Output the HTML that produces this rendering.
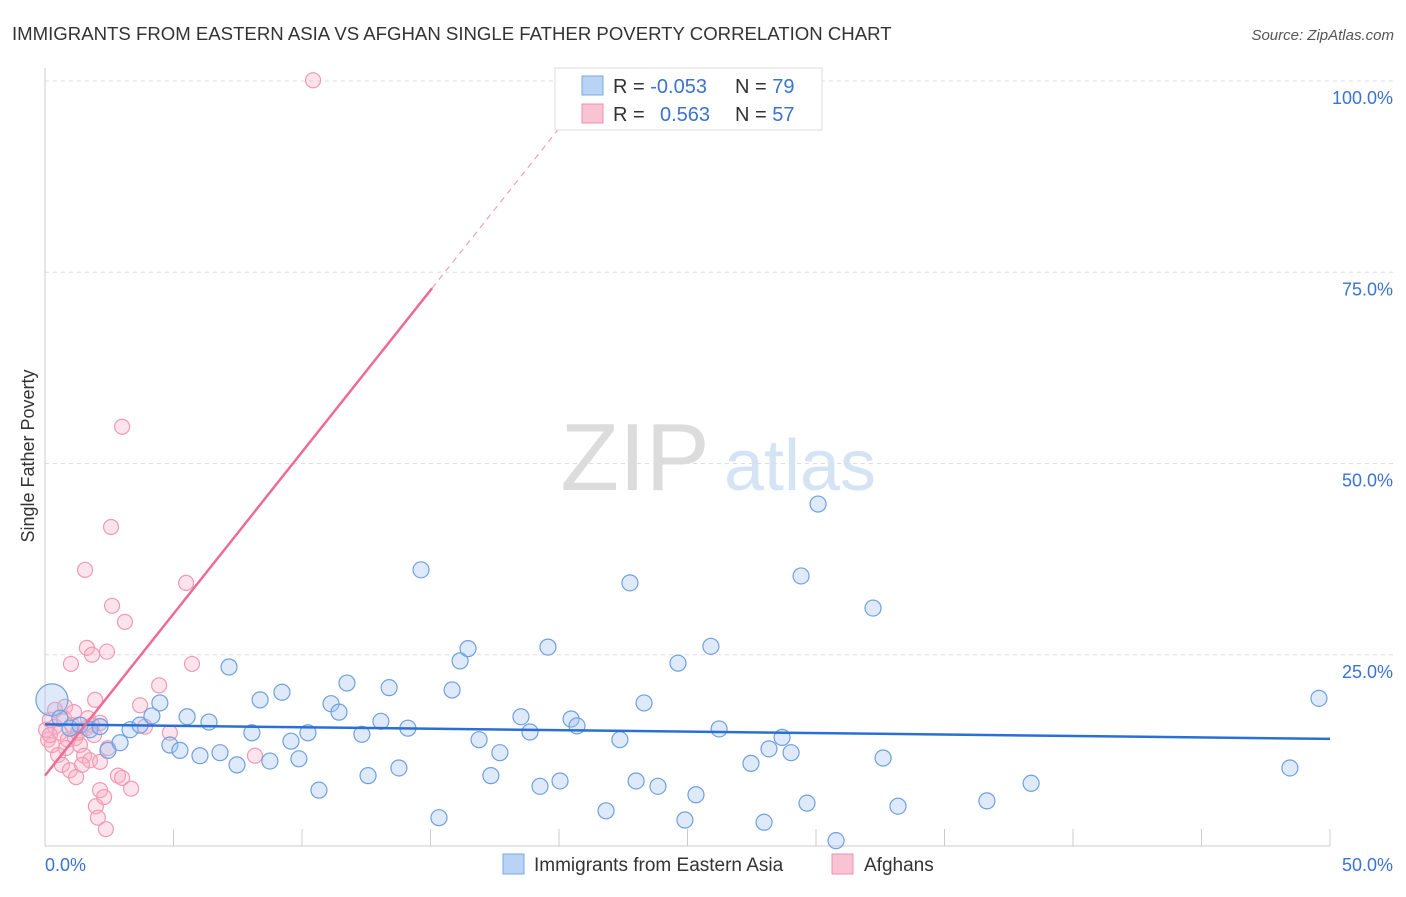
<!DOCTYPE html>
<html><head><meta charset="utf-8"><style>
body{margin:0;background:#fff;font-family:"Liberation Sans",sans-serif;}
svg text{font-family:"Liberation Sans",sans-serif;}
</style></head><body>
<svg id="c" width="1406" height="892" xmlns="http://www.w3.org/2000/svg">
<text x="12" y="40" font-size="18.6" fill="#333">IMMIGRANTS FROM EASTERN ASIA VS AFGHAN SINGLE FATHER POVERTY CORRELATION CHART</text>
<text x="1394" y="40" font-size="15" fill="#555" font-style="italic" text-anchor="end">Source: ZipAtlas.com</text>
<text x="34" y="456" font-size="18" fill="#333" text-anchor="middle" transform="rotate(-90 34 456)">Single Father Poverty</text>
<g><text x="635" y="490" font-size="96" fill="#dcdcdc" text-anchor="middle" font-family="Liberation Serif">ZIP</text><text x="800" y="490" font-size="72" fill="#d5e4f4" text-anchor="middle">atlas</text></g>
<g id="grid"></g><g id="marks"></g>
<g>
<rect x="555" y="68" width="267" height="62" fill="#fff" stroke="#ddd"/>
<rect x="582" y="76" width="21" height="19" fill="#b8d3f3" stroke="#7aa9e6"/>
<rect x="582" y="104" width="21" height="19" fill="#f9c3d3" stroke="#ee8fac"/>
<text x="613" y="93" font-size="20" fill="#333">R = <tspan fill="#3a73d0">-0.053</tspan></text>
<text x="735" y="93" font-size="20" fill="#333">N = <tspan fill="#3a73d0">79</tspan></text>
<text x="613" y="121" font-size="20" fill="#333">R = <tspan x="660" fill="#3a73d0">0.563</tspan></text>
<text x="735" y="121" font-size="20" fill="#333">N = <tspan fill="#3a73d0">57</tspan></text>
</g>
<g>
<rect x="503" y="854" width="21" height="20" fill="#b8d3f3" stroke="#7aa9e6"/>
<text x="534" y="871" font-size="19" fill="#333">Immigrants from Eastern Asia</text>
<rect x="832" y="854" width="21" height="20" fill="#f9c3d3" stroke="#ee8fac"/>
<text x="864" y="871" font-size="19" fill="#333">Afghans</text>
</g>
</svg>
<script>
const xTicks=[0,5,10,15,20,25,30,35,40,45,50];
const yTicks=[25,50,75,100];
const yTickLabels=["25.0%","50.0%","75.0%","100.0%"];
const xEndLabels=["0.0%","50.0%"];
const blueX=[0.27,0.58,0.97,1.36,1.75,2.14,2.45,2.92,3.31,3.70,4.16,4.47,4.86,5.25,5.53,6.03,6.38,6.81,7.16,7.47,8.05,8.37,8.75,9.22,9.57,9.88,10.23,10.66,11.13,11.44,11.75,12.33,12.57,13.07,13.39,13.77,14.12,14.63,15.33,15.84,16.15,16.46,16.89,17.35,17.70,18.52,18.87,19.26,19.57,20.04,20.47,20.70,21.83,22.37,22.76,23.00,23.31,23.85,24.63,24.90,25.33,25.91,26.23,27.47,27.98,28.17,28.68,29.03,29.42,29.65,30.08,30.78,32.22,32.61,33.19,36.65,38.37,48.44,49.57];
const blueY=[19.1,16.7,15.4,15.8,15.2,15.6,12.5,13.5,15.2,15.8,17.0,18.7,13.2,12.5,16.9,11.8,16.2,12.2,23.4,10.6,14.8,19.1,11.1,20.1,13.7,11.4,14.8,7.3,18.6,17.5,21.3,14.6,9.2,16.3,20.7,10.2,15.4,36.1,3.7,20.4,24.2,25.8,13.9,9.2,12.2,16.9,14.9,7.8,26.0,8.5,16.6,15.7,4.6,13.9,34.4,8.5,18.7,7.8,23.9,3.4,6.7,26.1,15.3,10.8,3.1,12.7,14.2,12.2,35.3,5.6,44.7,0.7,31.1,11.5,5.2,5.9,8.2,10.2,19.3];
const pinkX=[10.43,3.0,2.57,1.56,5.49,2.61,3.11,1.63,2.41,1.83,1.01,5.72,4.44,1.95,0.78,3.70,0.19,0.39,0.58,0.89,1.17,1.36,1.67,1.83,2.14,0.12,0.27,0.51,0.66,0.97,1.21,1.52,1.75,2.14,2.45,2.84,3.0,3.35,2.14,1.98,2.30,2.06,2.37,4.86,8.17,3.89,0.39,0.74,1.05,0.04,0.19,1.28,0.82,1.44,1.13,1.60,1.91];
const pinkY=[100.1,54.8,41.7,36.1,34.4,31.4,29.3,25.9,25.4,25.0,23.8,23.8,21.0,19.1,18.2,18.4,16.5,15.6,14.8,13.9,14.1,13.2,16.7,15.8,16.1,13.9,13.2,11.9,10.6,9.9,9.0,11.8,11.2,11.0,12.8,9.2,8.9,7.5,7.3,5.2,6.4,3.7,2.2,14.8,11.8,15.6,17.8,16.7,15.8,15.2,14.5,14.8,12.8,10.6,17.5,15.4,14.5];
const blueTrend=[15.9,14.0];
const pinkTrend=[9.2,4.23];
const pinkSolidEnd=15.06;
const X=v=>45+v*25.7, Y=v=>846-v*7.65;
const NS="http://www.w3.org/2000/svg";
function mk(t,a,p){const e=document.createElementNS(NS,t);for(const k in a)e.setAttribute(k,a[k]);p.appendChild(e);return e;}
const g=document.getElementById('grid'), m=document.getElementById('marks');
yTicks.forEach((t,i)=>{
 const l=mk('line',{x1:45,x2:1394,y1:Y(t),y2:Y(t),stroke:'#ddd','stroke-dasharray':'4,4'},g);
 
 
 const tx=mk('text',{x:1393,y:Y(t)+23,'font-size':18,fill:'#3a73d0','text-anchor':'end'},g);tx.textContent=yTickLabels[i];
 
 
});
mk('line',{x1:45,x2:45,y1:68,y2:846,stroke:'#ccc'},g);
mk('line',{x1:45,x2:1330,y1:846,y2:846,stroke:'#ccc'},g);
xTicks.forEach(t=>{const l=mk('line',{x1:X(t),x2:X(t),y1:829,y2:846,stroke:'#ccc'},g);
 
 });
const xl0=mk('text',{x:45,y:871,'font-size':18,fill:'#3a73d0'},g);xl0.textContent=xEndLabels[0];


const xl1=mk('text',{x:1393,y:871,'font-size':18,fill:'#3a73d0','text-anchor':'end'},g);xl1.textContent=xEndLabels[1];


pinkX.forEach((x,i)=>{const c=mk('circle',{cx:X(x),cy:Y(pinkY[i]),r:7.5,fill:'rgba(248,175,198,0.35)',stroke:'#f09ab5','stroke-width':1.2},m);
 
 });
blueX.forEach((x,i)=>{const c=mk('circle',{cx:X(x),cy:Y(blueY[i]),r:i===0?16:8,fill:'rgba(160,196,240,0.35)',stroke:'#6ea0e0','stroke-width':1.2},m);
 
 });
const bt=mk('line',{x1:X(0),y1:Y(blueTrend[0]),x2:X(50),y2:Y(blueTrend[1]),stroke:'#2a6fd6','stroke-width':2.5},m);


const pv=x=>pinkTrend[0]+pinkTrend[1]*x;
const pt=mk('line',{x1:X(0),y1:Y(pv(0)),x2:X(pinkSolidEnd),y2:Y(pv(pinkSolidEnd)),stroke:'#ec6c96','stroke-width':2.5},m);


const xe=(101.5-pinkTrend[0])/pinkTrend[1];
const pd=mk('line',{x1:X(pinkSolidEnd),y1:Y(pv(pinkSolidEnd)),x2:X(xe),y2:Y(101.5),stroke:'#f0a0b8','stroke-width':1.2,'stroke-dasharray':'6,5'},m);


</script>
</body></html>
